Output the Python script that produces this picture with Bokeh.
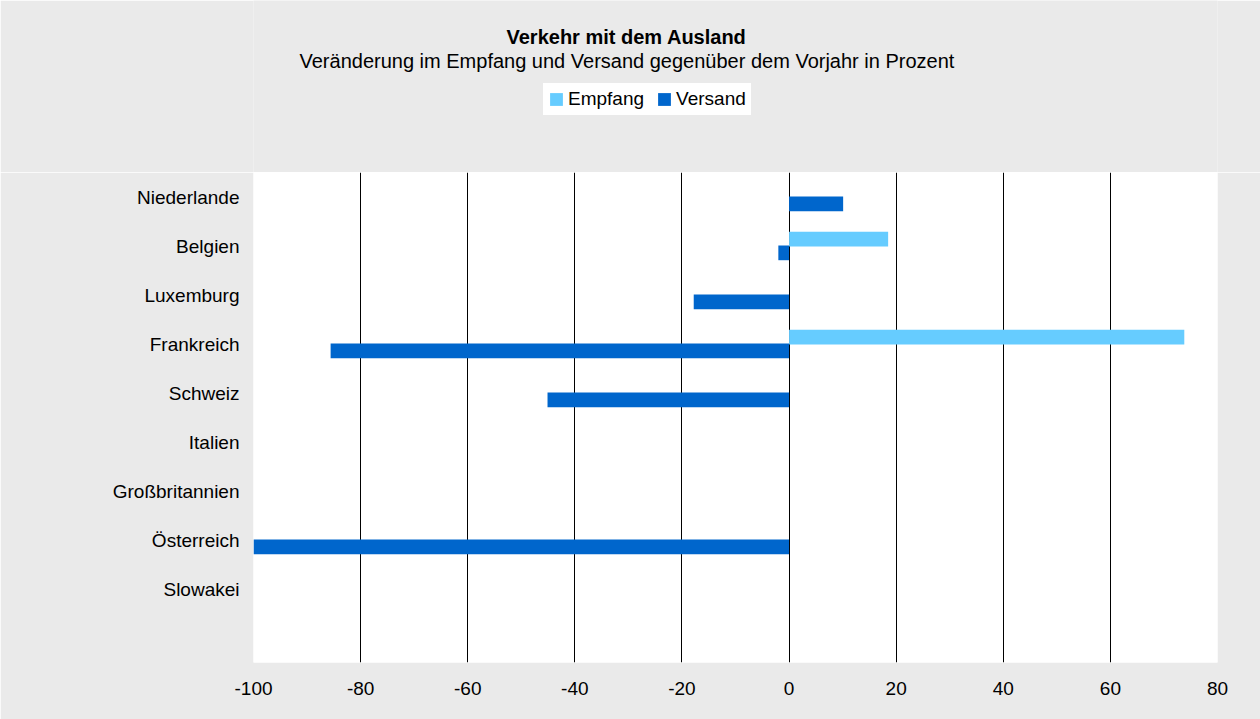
from bokeh.plotting import figure
from bokeh.layouts import column
from bokeh.models import Range1d, FixedTicker, Legend, LegendItem, Label, ColumnDataSource
from bokeh.transform import dodge
from bokeh.embed import file_html
from bokeh.resources import INLINE

nan = float("nan")

categories = ["Niederlande", "Belgien", "Luxemburg", "Frankreich", "Schweiz",
              "Italien", "Großbritannien", "Österreich", "Slowakei"]
empfang = [nan, 18.5, nan, 73.8, nan, nan, nan, nan, nan]
versand = [10.1, -2.0, -17.8, -85.6, -45.1, nan, nan, -100.0, nan]
x_ticks = [-100, -80, -60, -40, -20, 0, 20, 40, 60, 80]
series_names = ["Empfang", "Versand"]

title_text = "Verkehr mit dem Ausland"
subtitle_text = "Veränderung im Empfang und Versand gegenüber dem Vorjahr in Prozent"

FONT = "Liberation Sans"
BG = "#eaeaea"
C_EMP = "#66ccff"
C_VER = "#0066cc"
W = 1260
HEAD_H = 172
MAIN_H = 547
LEFT = 253
RIGHT = 43

pos = list(range(len(categories)))
src = ColumnDataSource(dict(pos=pos, cat=categories, empfang=empfang, versand=versand))

# ---------- header (title, subtitle, legend) ----------
head = figure(width=W, height=HEAD_H, output_backend="svg", toolbar_location=None,
              x_range=Range1d(LEFT, W - RIGHT), y_range=Range1d(HEAD_H, 0),
              min_border_left=LEFT, min_border_right=RIGHT, min_border_top=0, min_border_bottom=0)
head.axis.visible = False
head.grid.visible = False
head.background_fill_color = BG
head.border_fill_color = BG
head.outline_line_color = None

head.add_layout(Label(x=506, y=36, text=title_text, text_align="left",
                      text_baseline="alphabetic", text_font=FONT, text_font_size="20px",
                      text_font_style="bold", text_color="black"))
head.add_layout(Label(x=299, y=60, text=subtitle_text, text_align="left",
                      text_baseline="alphabetic", text_font=FONT, text_font_size="20px",
                      text_color="black"))

# legend swatches: hidden copies of the two bar series, same fill styles
h_emp = head.hbar(y="pos", left=0, right="empfang", height=0.3, source=src,
                  fill_color=C_EMP, line_color=None, visible=False)
h_ver = head.hbar(y="pos", left=0, right="versand", height=0.3, source=src,
                  fill_color=C_VER, line_color=None, visible=False)
legend = Legend(items=[LegendItem(label=series_names[0], renderers=[h_emp]),
                       LegendItem(label=series_names[1], renderers=[h_ver])],
                orientation="horizontal", location=(543 - LEFT, HEAD_H - 115),
                background_fill_color="white", background_fill_alpha=1.0,
                border_line_color="white", border_line_width=1, padding=4, margin=0, spacing=12,
                glyph_width=16, glyph_height=16, label_height=16, label_standoff=4,
                inactive_fill_alpha=0.0,
                label_text_font=FONT, label_text_font_size="19px", label_text_color="black")
head.add_layout(legend)

# ---------- main chart ----------
p = figure(width=W, height=MAIN_H, output_backend="svg", toolbar_location=None,
           x_range=Range1d(-100, 80), y_range=Range1d(len(categories) + 0.5, -0.5),
           min_border_left=LEFT, min_border_right=RIGHT, min_border_top=0, min_border_bottom=57)
p.background_fill_color = "white"
p.border_fill_color = BG
p.outline_line_color = None

p.hbar(y=dodge("pos", -0.14, range=p.y_range), left=0, right="empfang", height=0.3,
       source=src, fill_color=C_EMP, line_color=None)
p.hbar(y=dodge("pos", 0.14, range=p.y_range), left=0, right="versand", height=0.3,
       source=src, fill_color=C_VER, line_color=None)

p.xaxis.ticker = FixedTicker(ticks=x_ticks)
p.xaxis.major_label_overrides = {t: str(t) for t in x_ticks}
p.xaxis.axis_line_color = None
p.xaxis.major_tick_line_color = None
p.xaxis.minor_tick_line_color = None
p.xaxis.major_tick_out = 0
p.xaxis.major_tick_in = 0
p.xaxis.major_label_standoff = 19
p.xaxis.major_label_text_font = FONT
p.xaxis.major_label_text_font_size = "19px"
p.xaxis.major_label_text_color = "black"

p.yaxis.ticker = FixedTicker(ticks=pos)
p.yaxis.major_label_overrides = {i: c for i, c in zip(pos, categories)}
p.yaxis.axis_line_color = None
p.yaxis.major_tick_line_color = None
p.yaxis.minor_tick_line_color = None
p.yaxis.major_tick_out = 0
p.yaxis.major_tick_in = 0
p.yaxis.major_label_standoff = 14
p.yaxis.major_label_text_font = FONT
p.yaxis.major_label_text_font_size = "19px"
p.yaxis.major_label_text_color = "black"

p.xgrid.ticker = FixedTicker(ticks=x_ticks)
p.xgrid.grid_line_color = "black"
p.xgrid.grid_line_width = 1
p.ygrid.grid_line_color = None

layout = column(head, p, spacing=0)
open("out.html", "w").write(file_html(layout, INLINE))
